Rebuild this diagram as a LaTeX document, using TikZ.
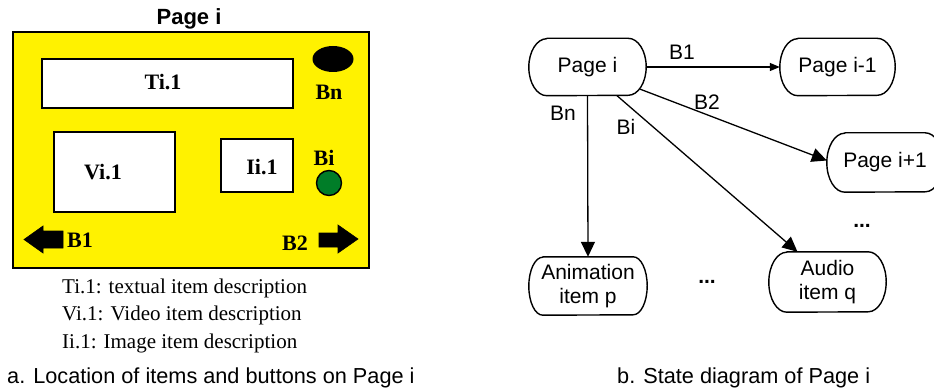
\documentclass[tikz,border=0pt]{standalone}
\usepackage{fontspec}
\setmainfont{Liberation Serif}
\setsansfont{Liberation Sans}
\usetikzlibrary{arrows.meta,calc,shapes.geometric}

\definecolor{pageyellow}{RGB}{255,242,0}
\definecolor{btngreen}{RGB}{0,125,40}

\tikzset{
  itembox/.style={draw=black, line width=1.6pt, fill=white, inner sep=0pt},
  itemtext/.style={font=\bfseries\fontsize{22}{24}\selectfont, inner sep=0pt},
  legendtext/.style={font=\fontsize{21}{24}\selectfont, anchor=base west, inner sep=0pt},
  captiontext/.style={font=\sffamily\fontsize{21.7}{24}\selectfont, anchor=base west, inner sep=0pt},
  state/.style={inner sep=0pt, align=center, font=\sffamily\fontsize{21}{24.5}\selectfont},
  stateline/.style={draw=black, line width=1.4pt, line join=round},
  edgelabel/.style={font=\sffamily\fontsize{21}{24}\selectfont, inner sep=0pt},
  trans/.style={draw=black, line width=1.3pt, -{Triangle[length=15pt,width=14pt]}},
  smalltrans/.style={draw=black, line width=1.3pt, -{Triangle[length=10pt,width=8pt]}},
  blockarrow/.style={fill=black, draw=black, line width=0.6pt}
}

% outline of a state: flat top and bottom, half-elliptical ends
% #1 node name, #2 horizontal depth of the ends, #3 half height
\newcommand\stateoutline[3]{%
  \draw[stateline] ($(#1.north west)+(#2,0)$) -- ($(#1.north east)+(-#2,0)$)
    arc[start angle=-90, end angle=90, x radius=#2, y radius=#3]
    -- ($(#1.south west)+(#2,0)$)
    arc[start angle=90, end angle=270, x radius=#2, y radius=#3] -- cycle;}

\begin{document}
\begin{tikzpicture}[x=1pt,y=-1pt]
\useasboundingbox (0,0) rectangle (934,390);

% ---------- a. layout of Page i ----------
\node[font=\sffamily\bfseries\fontsize{22}{24}\selectfont, inner sep=0pt] (title) at (189,19) {Page i};
\node[draw=black, line width=1.7pt, fill=pageyellow, inner sep=0pt,
      minimum width=356pt, minimum height=236pt] (page) at (191,150) {};

\node[itembox, minimum width=251pt, minimum height=49pt] (tibox) at (167.5,83.5) {};
\node[itemtext] (ti) at (163,82) {Ti.1};
\node[itembox, minimum width=121pt, minimum height=80pt] (vibox) at (114.5,172) {};
\node[itemtext] (vi) at (103,172) {Vi.1};
\node[itembox, minimum width=72pt, minimum height=53pt] (iibox) at (257,165.5) {};
\node[itemtext] (ii) at (262,167) {Ii.1};

% buttons
\node[ellipse, fill=black, minimum width=41pt, minimum height=26pt, inner sep=0pt] (bnbtn) at (333,59) {};
\node[itemtext] (bn) at (329,92) {Bn};
\node[itemtext] (bi) at (324,158) {Bi};
\node[circle, fill=btngreen, draw=black, line width=1.4pt, minimum size=25pt, inner sep=0pt] (bibtn) at (329,183) {};
\node[itemtext] (b1) at (80,240) {B1};
\node[itemtext] (b2) at (295,243) {B2};

% left / right block arrows
\path[blockarrow] (63,231) -- (43,231) -- (43,226) -- (24,239.5) -- (43,253) -- (43,248) -- (63,248) -- cycle;
\path[blockarrow] (319,233) -- (338,233) -- (338,225) -- (358,239) -- (338,253) -- (338,247) -- (319,247) -- cycle;

% legend
\node[legendtext] (l1) at (62,293) {Ti.1: textual item description};
\node[legendtext] (l2) at (62,320) {Vi.1: Video item description};
\node[legendtext] (l3) at (62,348) {Ii.1: Image item description};
\node[captiontext] (capa) at (7,383) {a. Location of items and buttons on Page i};

% ---------- b. state diagram ----------
\node[state, minimum width=117pt, minimum height=57pt] (pagei) at (587.5,67) {Page i};
\node[state, minimum width=115pt, minimum height=57pt] (pagem) at (837.5,67) {Page i-1};
\node[state, minimum width=116pt, minimum height=59pt] (pagep) at (885,162.5) {Page i+1};
\node[state, minimum width=118pt, minimum height=58pt] (anim) at (588,286) {Animation\\item p};
\node[state, minimum width=117pt, minimum height=60pt] (audio) at (827.5,282) {Audio\\item q};

\stateoutline{pagei}{18}{28.5}
\stateoutline{pagem}{18}{28.5}
\stateoutline{pagep}{18}{29.5}
\stateoutline{anim}{14}{29}
\stateoutline{audio}{18}{30}

\draw[smalltrans] (pagei.east) -- (pagem.west);
\draw[trans] ($(pagei.south east)+(-6,-6.5)$) -- ($(pagep.west)+(0,-2)$);
\draw[trans] (pagei.south) -- (anim.north);
\draw[trans] ($(pagei.south)+(29.5,0)$) -- ($(audio.north)+(-30,0)$);

\node[edgelabel] (lb1) at (682,52) {B1};
\node[edgelabel] (lb2) at (707,102) {B2};
\node[edgelabel] (lbn) at (563,113) {Bn};
\node[edgelabel] (lbi) at (626,127) {Bi};

\node[edgelabel, font=\sffamily\bfseries\fontsize{21}{24}\selectfont] (dots1) at (862,226) {...};
\node[edgelabel, font=\sffamily\bfseries\fontsize{21}{24}\selectfont] (dots2) at (707,282) {...};

\node[captiontext] (capb) at (617,383) {b. State diagram of Page i};
\end{tikzpicture}
\end{document}
